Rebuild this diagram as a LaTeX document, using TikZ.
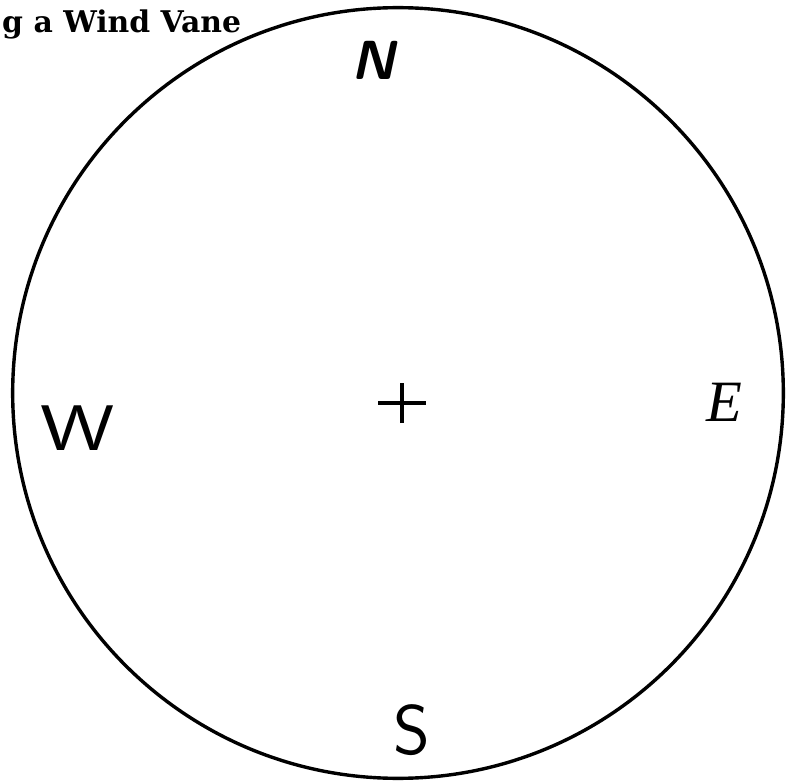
\documentclass[tikz,border=0pt]{standalone}
\usepackage{fontspec}
\newfontfamily\titlefont{DejaVu Serif}
\newfontfamily\eastfont{Liberation Serif}
\tikzset{
  ring/.style={line width=2.9pt, draw=black, line cap=round, line join=round},
  cross/.style={line width=2.6pt, draw=black},
  titlelabel/.style={font=\titlefont\fontsize{25.5}{25.5}\selectfont\bfseries, anchor=base west, inner sep=0pt},
  northlabel/.style={font=\fontsize{47}{47}\selectfont\sffamily\bfseries\slshape, inner sep=0pt},
  westlabel/.style={font=\fontsize{55}{55}\selectfont\sffamily, inner sep=0pt, xscale=1.3},
  eastlabel/.style={font=\eastfont\fontsize{50}{50}\selectfont\itshape, inner sep=0pt},
  southlabel/.style={font=\fontsize{60}{60}\selectfont\sffamily, inner sep=0pt},
}

\begin{document}
\begin{tikzpicture}
\useasboundingbox (0,0) rectangle (23.850,23.460);
\draw[ring] (11.940,11.670) circle (11.560);
\node[titlelabel] (title) at (0.060,22.470) {g a Wind Vane};
\node[northlabel] (north) at (11.190,21.660) {N};
\node[westlabel] (west) at (2.340,10.620) {W};
\node[eastlabel] (east) at (21.720,11.400) {E};
\node[southlabel] (south) at (12.360,1.560) {S};
\coordinate (centre) at (12.060,11.370);
\draw[cross] ([xshift=-0.720cm]centre) -- ([xshift=0.720cm]centre);
\draw[cross] ([yshift=-0.600cm]centre) -- ([yshift=0.600cm]centre);
\end{tikzpicture}
\end{document}
